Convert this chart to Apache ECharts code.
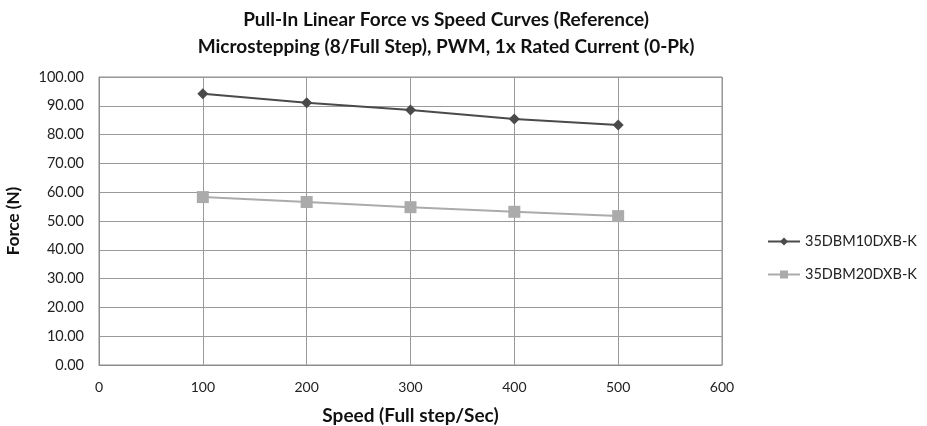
<!DOCTYPE html>
<html><head><meta charset="utf-8">
<script src="https://cdn.jsdelivr.net/npm/echarts@6/dist/echarts.min.js"></script>
<style>html,body{margin:0;padding:0;background:#fff}#c{width:927px;height:426px}</style>
</head><body><div id="c"></div>
<script>
const speeds = [100, 200, 300, 400, 500];
const seriesNames = ['35DBM10DXB-K', '35DBM20DXB-K'];
const force10 = [94.2, 91.1, 88.5, 85.4, 83.3];
const force20 = [58.3, 56.6, 54.8, 53.2, 51.7];
const titleLines = ['Pull-In Linear Force vs Speed Curves (Reference)', 'Microstepping (8/Full Step), PWM, 1x Rated Current (0-Pk)'];
const xTitle = 'Speed (Full step/Sec)';
const yTitle = 'Force (N)';

const FONT = 'Lato, "Open Sans", sans-serif';
const chart = echarts.init(document.getElementById('c'), null, {renderer: 'canvas'});
chart.setOption({
  backgroundColor: '#fff',
  animation: false,
  title: {
    text: titleLines.join('\n'),
    left: 441, top: 1, textAlign: 'center',
    textStyle: {fontFamily: FONT, fontWeight: 'bold', fontSize: 19, lineHeight: 27, color: '#111'}
  },
  legend: {
    orient: 'vertical', left: 762, top: 229, itemGap: 18,
    itemWidth: 32, itemHeight: 10,
    textStyle: {fontFamily: FONT, fontSize: 14.5, color: '#222'},
    data: seriesNames
  },
  grid: {left: 99, right: 205, top: 77, bottom: 61, show: true, borderColor: '#8c8c8c', borderWidth: 1,
         containLabel: false, outerBoundsMode: 'none'},
  xAxis: {
    type: 'value', min: 0, max: 600, interval: 100,
    name: xTitle, nameLocation: 'middle', nameGap: 41,
    nameTextStyle: {fontFamily: FONT, fontWeight: 'bold', fontSize: 19, color: '#111'},
    axisLine: {show: true, lineStyle: {color: '#8c8c8c'}},
    axisTick: {show: false},
    axisLabel: {fontFamily: FONT, fontSize: 14, color: '#222', margin: 15},
    splitLine: {show: true, lineStyle: {color: '#9a9a9a', width: 1}}
  },
  yAxis: {
    type: 'value', min: 0, max: 100, interval: 10,
    name: yTitle, nameLocation: 'middle', nameGap: 77, nameRotate: 90,
    nameTextStyle: {fontFamily: FONT, fontWeight: 'bold', fontSize: 17, color: '#111'},
    axisLine: {show: true, lineStyle: {color: '#8c8c8c'}},
    axisTick: {show: false},
    axisLabel: {fontFamily: FONT, fontSize: 14.5, color: '#222', margin: 15, formatter: v => v.toFixed(2)},
    splitLine: {show: true, lineStyle: {color: '#9a9a9a', width: 1}}
  },
  series: [
    {
      name: seriesNames[0], type: 'line',
      data: speeds.map((s, i) => [s, force10[i]]),
      symbol: 'diamond', symbolSize: 11,
      lineStyle: {color: '#4a4a4a', width: 2},
      itemStyle: {color: '#4a4a4a'}
    },
    {
      name: seriesNames[1], type: 'line',
      data: speeds.map((s, i) => [s, force20[i]]),
      symbol: 'rect', symbolSize: 12,
      lineStyle: {color: '#ababab', width: 2},
      itemStyle: {color: '#ababab'}
    }
  ]
});
</script></body></html>
